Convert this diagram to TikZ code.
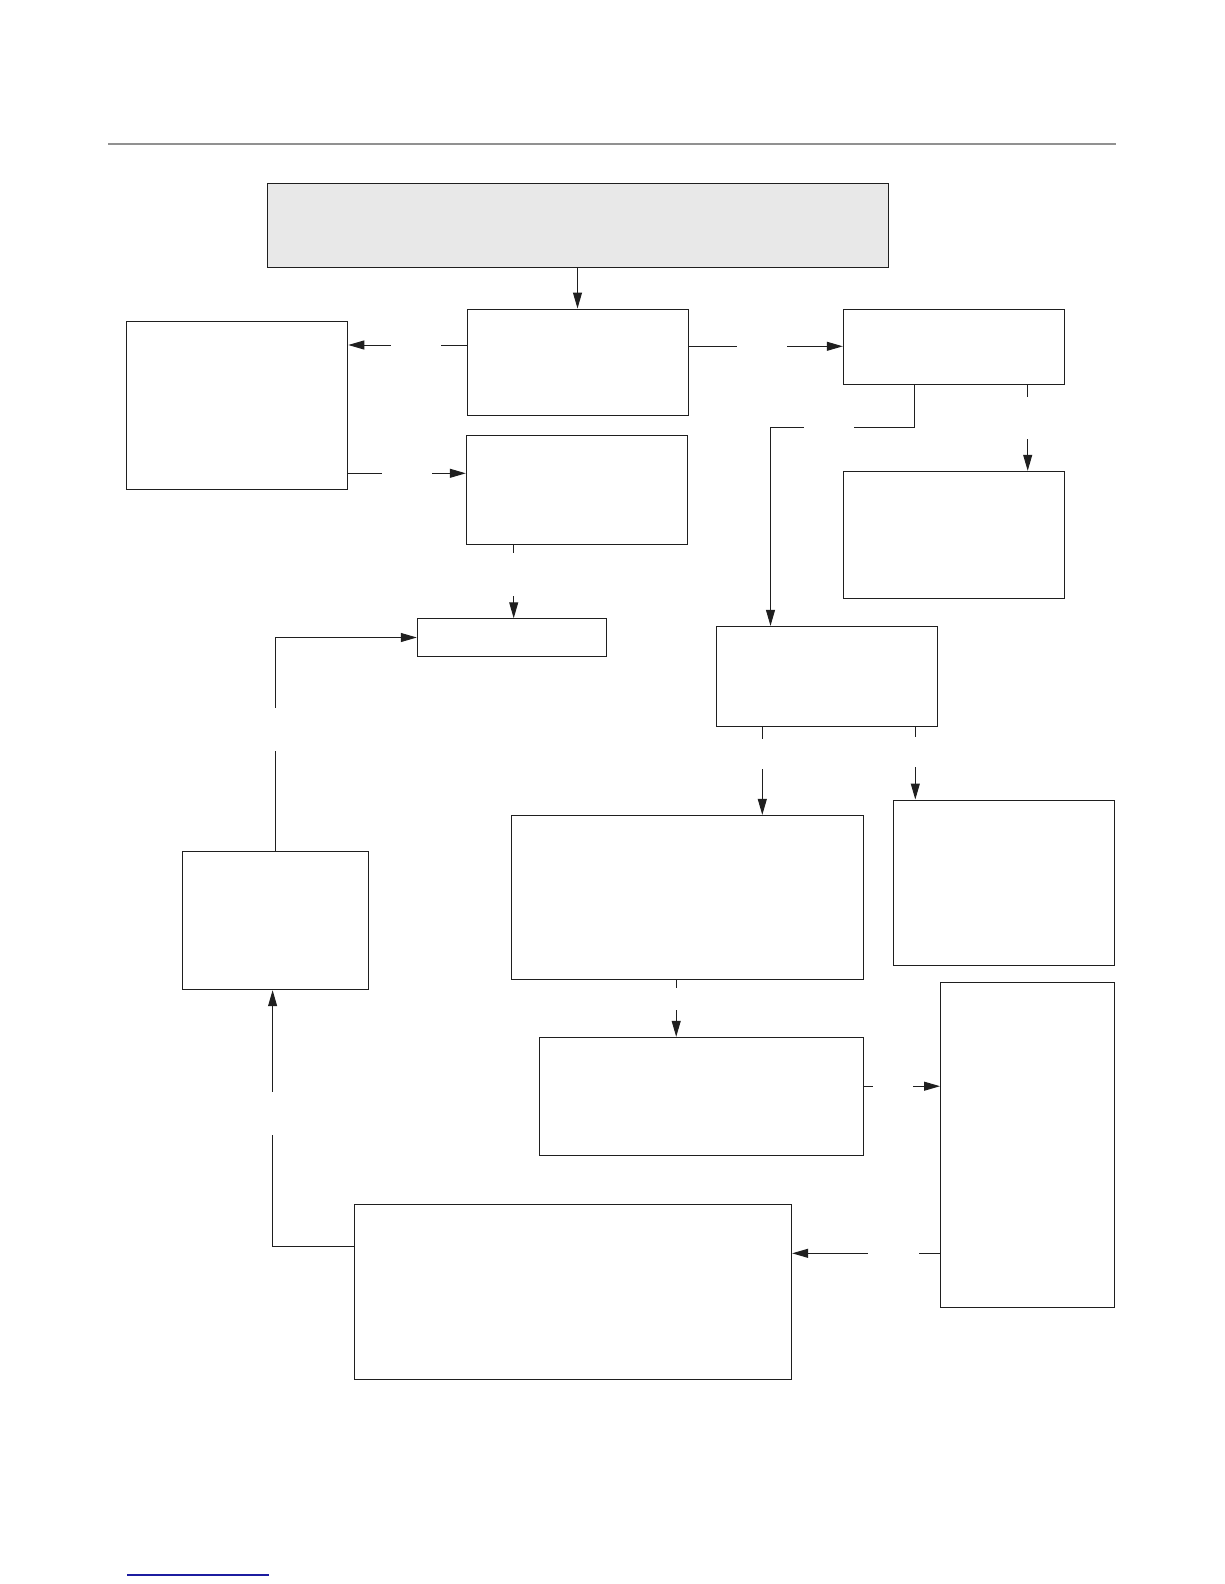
\documentclass[tikz,border=0pt]{standalone}
\usepackage{tikz}
\usepackage{xcolor}
\usetikzlibrary{arrows.meta}
\definecolor{rulegray}{HTML}{919191}
\definecolor{headfill}{HTML}{E8E8E8}
\definecolor{linkblue}{HTML}{1C1CA0}

\begin{document}
\begin{tikzpicture}[
  x=1pt, y=-1pt,
  box/.style={draw=black!88, line width=1pt, fill=white, inner sep=0pt},
  head/.style={box, fill=headfill},
  arrow/.style={-{Triangle[length=16pt, width=9pt]}, line width=1pt, draw=black!88},
  hgap/.style={fill=white, inner sep=0pt, minimum width=#1, minimum height=5pt},
  vgap/.style={fill=white, inner sep=0pt, minimum width=5pt, minimum height=#1}
]
  \useasboundingbox (0,0) rectangle (1224,1584);

  % page rules
  \coordinate (ruleL) at (108,143.5);
  \coordinate (ruleR) at (1116,143.5);
  \draw[rulegray, line width=2pt] (ruleL) -- (ruleR);
  \coordinate (linkL) at (127,1575);
  \coordinate (linkR) at (269,1575);
  \draw[linkblue, line width=1.1pt] (linkL) -- (linkR);

  % boxes
  \node[head, minimum width=620.5pt, minimum height=83.5pt] (top) at (578.2,225.7) {};
  \node[box, minimum width=221.5pt, minimum height=168pt] (left) at (237,405.3) {};
  \node[box, minimum width=220.8pt, minimum height=106pt] (mid) at (577.9,362) {};
  \node[box, minimum width=221pt, minimum height=109pt] (midlow) at (576.8,489.8) {};
  \node[box, minimum width=189.4pt, minimum height=37.5pt] (small) at (512,637.5) {};
  \node[box, minimum width=221.2pt, minimum height=75pt] (right) at (953.9,346.8) {};
  \node[box, minimum width=221.4pt, minimum height=127pt] (rightlow) at (954,534.8) {};
  \node[box, minimum width=221pt, minimum height=99.7pt] (fork) at (826.8,676.2) {};
  \node[box, minimum width=352pt, minimum height=164pt] (wide) at (687.3,897.4) {};
  \node[box, minimum width=220.9pt, minimum height=165pt] (side) at (1003.8,882.5) {};
  \node[box, minimum width=324pt, minimum height=118pt] (next) at (701.3,1096.3) {};
  \node[box, minimum width=174pt, minimum height=325pt] (tall) at (1027.5,1144.8) {};
  \node[box, minimum width=437.3pt, minimum height=175pt] (bottom) at (573,1291.8) {};
  \node[box, minimum width=186.4pt, minimum height=138.4pt] (back) at (275.5,920.5) {};

  % connectors
  \draw[arrow] (top.south -| 577.5,0) -- (mid.north -| 577.5,0);
  \draw[arrow] (mid.west |- 0,345) -- node[hgap=50.3pt, pos=0.431] (gML) {} (left.east |- 0,345);
  \draw[arrow] (left.east |- 0,473.3) -- node[hgap=50.3pt, pos=0.499] (gLM) {} (midlow.west |- 0,473.3);
  \draw[arrow] (midlow.south -| 513.7,0) -- node[vgap=42.7pt, pos=0.407] (gMS) {} (small.north -| 513.7,0);
  \draw[arrow] (mid.east |- 0,346.3) -- node[hgap=50.3pt, pos=0.474] (gMR) {} (right.west |- 0,346.3);
  \draw[arrow] (right.south -| 914.5,0) -- (914.5,427.3)
    -| node[hgap=50.3pt, pos=0.297] (gRF) {} (fork.north -| 770.5,0);
  \draw[arrow] (right.south -| 1027.7,0) -- node[vgap=42.3pt, pos=0.386] (gRR) {} (rightlow.north -| 1027.7,0);
  \draw[arrow] (fork.south -| 762.3,0) -- node[vgap=30.7pt, pos=0.309] (gFW) {} (wide.north -| 762.3,0);
  \draw[arrow] (fork.south -| 915.3,0) -- node[vgap=30.3pt, pos=0.349] (gFS) {} (side.north -| 915.3,0);
  \draw[arrow] (wide.south -| 676.2,0) -- node[vgap=22.5pt, pos=0.335] (gWN) {} (next.north -| 676.2,0);
  \draw[arrow] (next.east |- 0,1086.2) -- node[hgap=40.3pt, pos=0.384] (gNT) {} (tall.west |- 0,1086.2);
  \draw[arrow] (tall.west |- 0,1253.3) -- node[hgap=51.7pt, pos=0.315] (gTB) {} (bottom.east |- 0,1253.3);
  \draw[arrow] (bottom.west |- 0,1246.5) -| node[vgap=42.6pt, pos=0.759] (gBB) {} (back.south -| 272.6,0);
  \draw[arrow] (back.north) |- node[vgap=42.6pt, pos=0.285] (gBS) {} (small.west);
\end{tikzpicture}
\end{document}
